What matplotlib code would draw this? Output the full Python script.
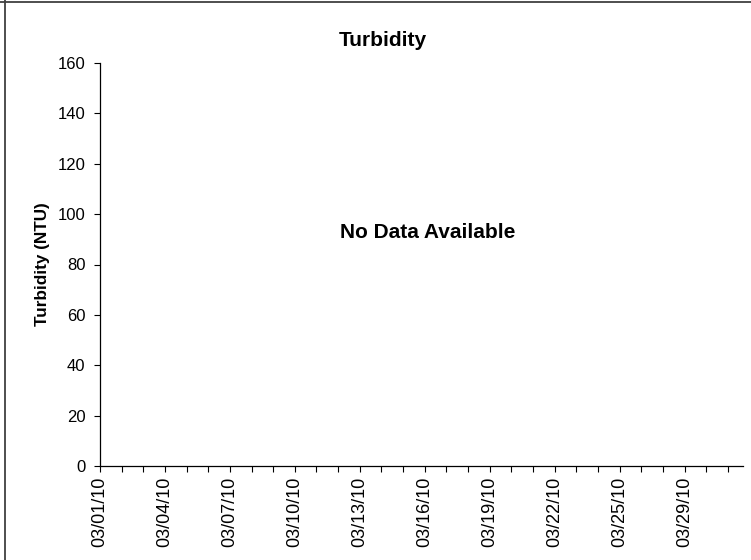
import matplotlib
matplotlib.use('Agg')
import matplotlib.pyplot as plt
from matplotlib.lines import Line2D

plt.rcParams.update({'font.family': ['Liberation Sans', 'DejaVu Sans'], 'font.size': 12})

# --- data ---
title = 'Turbidity'
y_label = 'Turbidity (NTU)'
message = 'No Data Available'
y_ticks = [0, 20, 40, 60, 80, 100, 120, 140, 160]
date_labels = ['03/01/10', '03/04/10', '03/07/10', '03/10/10', '03/13/10',
               '03/16/10', '03/19/10', '03/22/10', '03/25/10', '03/29/10']
n_days = 30   # one tick per day on the axis
label_every = 3

fig = plt.figure(figsize=(7.51, 5.6), dpi=100)
ax = fig.add_axes([100 / 751, 1 - 466 / 560, 643 / 751, 403 / 560])

ax.set_ylim(0, 160)
ax.set_yticks(y_ticks)
ax.set_xlim(0, n_days - 0.3)

xt = list(range(n_days))
xl = [''] * n_days
for i, lab in enumerate(date_labels):
    xl[i * label_every] = lab
ax.set_xticks(xt)
ax.set_xticklabels(xl, rotation=90, fontsize=13)

for s in ['top', 'right']:
    ax.spines[s].set_visible(False)
for s in ['left', 'bottom']:
    ax.spines[s].set_linewidth(0.9)
ax.tick_params(axis='y', direction='out', length=4.5, width=0.8, pad=6)
ax.tick_params(axis='x', direction='out', length=4.5, width=0.8, pad=3)

ax.text(0.51, 0.58, message, transform=ax.transAxes, ha='center', va='center',
        fontsize=15, fontweight='bold')

fig.text(383 / 751, 1 - 40 / 560, title, ha='center', va='center',
         fontsize=15, fontweight='bold')
fig.text(43 / 751, 1 - 264 / 560, y_label, ha='center', va='center',
         rotation=90, fontsize=12.3, fontweight='bold')

# outer chart border (left and top visible)
fig.add_artist(Line2D([4.5 / 751, 4.5 / 751], [0, 1], transform=fig.transFigure,
                      color='#404040', lw=1.3))
fig.add_artist(Line2D([0, 1], [1 - 1.5 / 560, 1 - 1.5 / 560], transform=fig.transFigure,
                      color='#404040', lw=1.3))

fig.savefig('out.png', dpi=100)
